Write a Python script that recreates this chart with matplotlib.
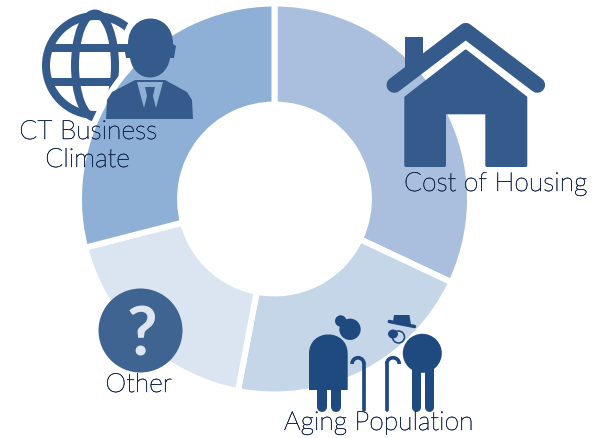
"""Donut of housing / business climate concerns with icon overlays."""

import matplotlib
matplotlib.use("Agg")
import matplotlib.pyplot as plt
import matplotlib.patheffects as pe
from matplotlib.patches import Circle, Ellipse, PathPatch, Polygon, Rectangle, Arc
from matplotlib.path import Path

categories = ["Cost of Housing", "Aging Population", "Other", "CT Business Climate"]
shares = [32, 21, 18, 29]
colors = ["#A9BFDD", "#C6D6E9", "#DBE5F1", "#8FB0D6"]

W, H = 597, 438
ICON = "#345B8C"
ICON_DARK = "#1F4A80"
ICON_Q = "#3F6491"
TEXT = "#14294D"
FONT = "Lato"


def px(v):
    return v * 0.72


def overlay(fig, z):
    ax = fig.add_axes([0, 0, 1, 1], zorder=z)
    ax.set_xlim(0, W)
    ax.set_ylim(H, 0)
    ax.axis("off")
    ax.patch.set_alpha(0)
    return ax


def draw_globe(ax):
    ax.add_patch(Circle((95.5, 65.5), 49.5, fc="none", ec=ICON, lw=px(8)))
    ax.add_patch(Ellipse((95, 65.5), 40, 104, fc="none", ec=ICON, lw=px(8)))
    ax.plot([50, 130], [48, 48], color=ICON, lw=px(8), solid_capstyle="butt")
    ax.plot([50, 130], [82, 82], color=ICON, lw=px(8), solid_capstyle="butt")
    # halo the person icon cuts out of the globe
    ax.add_patch(Ellipse((150, 49), 58, 78, fc="white", ec="none"))
    ax.add_patch(Polygon([(128, 82), (172, 82), (190, 119), (100, 119)], fc="white", ec="none"))


def draw_person(ax):
    head = Path(
        [(128, 44), (128, 10), (173, 10), (173, 44), (176, 46), (174, 58), (170, 58),
         (166, 84), (134, 84), (130, 58), (126, 58), (124, 46), (128, 44)],
        [Path.MOVETO, Path.CURVE4, Path.CURVE4, Path.CURVE4, Path.LINETO, Path.LINETO, Path.LINETO,
         Path.CURVE4, Path.CURVE4, Path.CURVE4, Path.LINETO, Path.LINETO, Path.LINETO],
    )
    ax.add_patch(PathPatch(head, fc=ICON, ec="none"))
    body = [(135, 80), (112, 92), (107, 100), (106, 119), (193, 119), (192, 100), (187, 92), (165, 80)]
    ax.add_patch(Polygon(body, fc=ICON, ec="none"))
    ax.add_patch(Polygon([(137, 82), (163, 82), (156, 108), (144, 108)], fc=colors[3], ec="none"))
    ax.add_patch(Polygon([(145, 87), (155, 87), (153, 96), (156, 108), (144, 108), (147, 96)], fc=ICON, ec="none"))


def draw_house(ax):
    ax.add_patch(Rectangle((405, 36.7), 18.3, 30, fc=ICON, ec="none"))
    ax.plot([394.3, 465.7, 537.3], [85, 30.7, 85], color=ICON, lw=px(15.6),
            solid_capstyle="round", solid_joinstyle="round")
    # one outline with the door notched out of the bottom edge
    outline = [(465.7, 51), (525.8, 97.5), (525.8, 165.5), (486.8, 165.5), (486.8, 112.8),
               (444.5, 112.8), (444.5, 165.5), (405.8, 165.5), (405.8, 97.5)]
    ax.add_patch(Polygon(outline, fc=ICON, ec=ICON, lw=px(3), joinstyle="round"))


def draw_cane(ax, x, cx, bottom):
    ax.plot([x, x], [bottom, 364], color=ICON_DARK, lw=px(3.7), solid_capstyle="round")
    ax.add_patch(Arc((cx, 364), 2 * abs(x - cx), 12.5, theta1=180, theta2=360, color=ICON_DARK, lw=px(3.7)))


def draw_couple(ax):
    # woman
    ax.add_patch(Circle((350, 329.3), 10.7, fc=ICON_DARK, ec="none"))
    ax.add_patch(Circle((340.7, 321), 5.7, fc=ICON_DARK, ec="none"))
    dress = Path(
        [(309, 390), (309, 353.7), (309, 328), (347.7, 328), (347.7, 353.7), (347.7, 390), (309, 390)],
        [Path.MOVETO, Path.LINETO, Path.CURVE4, Path.CURVE4, Path.CURVE4, Path.LINETO, Path.CLOSEPOLY],
    )
    ax.add_patch(PathPatch(dress, fc=ICON_DARK, ec="none"))
    for x in (321.7, 335.7):
        ax.plot([x, x], [385, 407], color=ICON_DARK, lw=px(10), solid_capstyle="round")
    # man
    ax.add_patch(Circle((422.3, 353.3), 19.5, fc=ICON_DARK, ec="none"))
    for x in (415.7, 428.7):
        ax.plot([x, x], [362, 407], color=ICON_DARK, lw=px(9), solid_capstyle="round")
    ax.add_patch(Polygon([(394, 315), (409.5, 315), (411, 325), (393, 322)], fc=ICON_DARK, ec="none"))
    ax.plot([389.3, 414.5], [321.5, 326.5], color=ICON_DARK, lw=px(3.5), solid_capstyle="round")
    ax.add_patch(Ellipse((393, 334), 10, 9, fc=ICON_DARK, ec="none"))
    ax.add_patch(Circle((398.5, 337), 6, fc="none", ec=ICON_DARK, lw=px(1.6)))
    draw_cane(ax, 364, 358, 410)
    draw_cane(ax, 386.7, 393, 410)


def label(ax, x, y, s):
    t = ax.text(x, y, s, ha="center", va="baseline", fontsize=19, color=TEXT,
                family=FONT, fontweight="light")
    # thin face renders too faint at this size, fatten it a touch
    t.set_path_effects([pe.withStroke(linewidth=0.35, foreground=TEXT)])


fig = plt.figure(figsize=(W / 100, H / 100), dpi=100)

back = overlay(fig, 1)
draw_globe(back)

# pie radius includes the white stroke, which eats 3 px on each edge
cx, cy, r = 274.5, 199, 195.5
pie_ax = fig.add_axes([(cx - r) / W, 1 - (cy + r) / H, 2 * r / W, 2 * r / H], zorder=2)
pie_ax.patch.set_alpha(0)
pie_ax.pie(shares, colors=colors, startangle=90, counterclock=False, radius=1,
           wedgeprops={"width": 0.517, "edgecolor": "white", "linewidth": px(6)})
pie_ax.set_xlim(-1, 1)
pie_ax.set_ylim(-1, 1)

front = overlay(fig, 3)
draw_person(front)
draw_house(front)
draw_couple(front)
front.add_patch(Circle((140.5, 330.5), 42, fc=ICON_Q, ec="none"))
front.text(141.5, 355, "?", ha="center", va="baseline", fontsize=48, fontweight="bold",
           family=FONT, color="#DDE6F2")

label(front, 495.5, 191, "Cost of Housing")
label(front, 88, 139, "CT Business")
label(front, 87.5, 167, "Climate")
label(front, 138.5, 392, "Other")
label(front, 378.5, 430, "Aging Population")

fig.savefig("out.png", dpi=100)
